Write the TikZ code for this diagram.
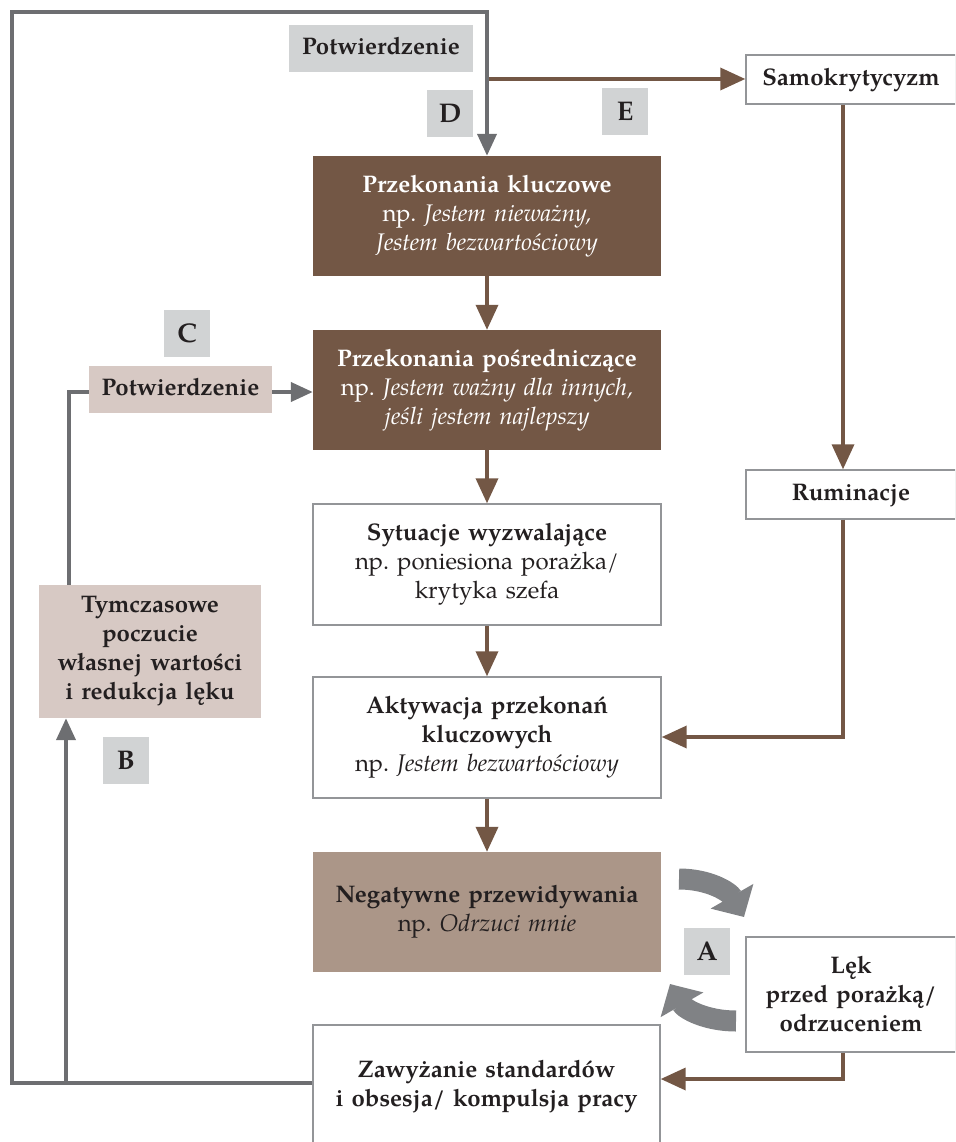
\documentclass[tikz,border=0pt]{standalone}
\usepackage{fontspec}
\setmainfont{texgyrepagella}[
  Extension=.otf,
  UprightFont=*-regular,
  BoldFont=*-bold,
  ItalicFont=*-italic,
  BoldItalicFont=*-bolditalic]
\usetikzlibrary{arrows.meta}
\frenchspacing

\definecolor{brownbox}{HTML}{735745}
\definecolor{taupebox}{HTML}{AB9688}
\definecolor{labelgray}{HTML}{D1D3D4}
\definecolor{rosebox}{HTML}{D7C9C4}
\definecolor{loopgray}{HTML}{6D6E71}
\definecolor{cyclegray}{HTML}{808285}
\definecolor{framegray}{HTML}{939598}
\definecolor{inktext}{HTML}{231F20}

\tikzset{
  every node/.style={font=\fontsize{24}{29}\selectfont, text=inktext},
  box/.style={rectangle, inner sep=0pt, align=center, text width=#1},
  box/.default=340pt,
  darkbox/.style={box, fill=brownbox, text=white},
  whitebox/.style={box=#1, draw=framegray, line width=1.4pt, fill=white},
  whitebox/.default=340pt,
  letterbox/.style={rectangle, fill=labelgray, inner sep=0pt,
    minimum width=46pt, minimum height=47pt, font=\fontsize{27}{30}\selectfont\bfseries},
  brownline/.style={draw=brownbox, line width=3.6pt},
  brownarrow/.style={brownline, -{Triangle[length=25pt, width=22pt]}},
  grayline/.style={draw=loopgray, line width=4pt},
  grayarrow/.style={grayline, -{Triangle[length=22pt, width=19pt]}},
  cyclearrow/.style={draw=cyclegray, line width=21pt,
    -{Triangle[length=24pt, width=48pt]}},
}

\begin{document}
\begin{tikzpicture}[x=1pt, y=-1pt]
  \useasboundingbox (0,0) rectangle (955,1142);
  \clip (0,0) rectangle (955,1142);

  % main column
  \node[darkbox, minimum width=348pt, minimum height=120pt] (kluczowe) at (487,216)
    {\textbf{Przekonania kluczowe}\\np. \textit{Jestem nieważny,}\\\textit{Jestem bezwartościowy}};
  \node[darkbox, minimum width=348pt, minimum height=120pt] (posred) at (487,390)
    {\textbf{Przekonania pośredniczące}\\np. \textit{Jestem ważny dla innych,}\\\textit{jeśli jestem najlepszy}};
  \node[whitebox, minimum width=348pt, minimum height=121pt] (sytuacje) at (487,564.5)
    {\textbf{Sytuacje wyzwalające}\\np. poniesiona porażka/\\krytyka szefa};
  \node[whitebox, minimum width=348pt, minimum height=121pt] (aktyw) at (487,737.5)
    {\textbf{Aktywacja przekonań}\\\textbf{kluczowych}\\np. \textit{Jestem bezwartościowy}};
  \node[box, fill=taupebox, minimum width=348pt, minimum height=120pt] (negat) at (487,912)
    {\textbf{Negatywne przewidywania}\\np. \textit{Odrzuci mnie}};
  \node[whitebox, minimum width=347pt, minimum height=124pt] (zawyz) at (486.5,1087)
    {\textbf{Zawyżanie standardów}\\\textbf{i obsesja/ kompulsja pracy}\\[6pt]};

  % right column
  \node[whitebox=200pt, minimum width=210pt, minimum height=49pt] (samo) at (851,79.5)
    {\textbf{Samokrytycyzm}\strut};
  \node[whitebox=200pt, minimum width=210pt, minimum height=49pt] (rumin) at (851,494.5)
    {\textbf{Ruminacje}\strut};
  \node[whitebox=200pt, minimum width=210pt, minimum height=115pt] (lek) at (851,994.5)
    {\textbf{Lęk}\\\textbf{przed porażką/}\\\textbf{odrzuceniem}};

  % left column
  \node[box=215pt, fill=rosebox, minimum width=222pt, minimum height=133pt] (tymcz) at (150,651.5)
    {\textbf{Tymczasowe}\\\textbf{poczucie}\\\textbf{własnej wartości}\\\textbf{i redukcja lęku}};
  \node[box=180pt, fill=rosebox, minimum width=183pt, minimum height=47pt] (potC) at (180.5,389.5)
    {\textbf{Potwierdzenie}\strut};
  \node[box=180pt, fill=labelgray, minimum width=184pt, minimum height=47pt] (potD) at (381,48.5)
    {\textbf{Potwierdzenie}\strut};

  % letter tags
  \node[letterbox] (tagA) at (707,951.5) {A};
  \node[letterbox] (tagB) at (126,760) {B};
  \node[letterbox] (tagC) at (187,333.5) {C};
  \node[letterbox] (tagD) at (450,113.5) {D};
  \node[letterbox] (tagE) at (625,111.5) {E};

  % brown flow down the main column
  \draw[brownarrow] (kluczowe) -- (posred);
  \draw[brownarrow] (posred) -- (sytuacje);
  \draw[brownarrow] (sytuacje) -- (aktyw);
  \draw[brownarrow] (aktyw) -- (negat);

  % self-criticism and rumination branch
  \coordinate (eStart) at (487,79);
  \draw[brownarrow] (eStart) -- (samo.west |- eStart);
  \draw[brownarrow] (samo.south -| 843,0) -- (rumin.north -| 843,0);
  \coordinate (rumTurn) at (843,737);
  \draw[brownarrow] (rumin.south -| rumTurn) -- (rumTurn) -- (aktyw.east |- rumTurn);
  \coordinate (lekTurn) at (843,1079);
  \draw[brownarrow] (lek.south -| lekTurn) -- (lekTurn) -- (zawyz.east |- lekTurn);

  % outer confirmation loop
  \coordinate (loopBL) at (12,1083);
  \coordinate (loopTL) at (12,12);
  \coordinate (loopTR) at (487,12);
  \draw[grayarrow] (zawyz.west |- loopBL) -- (loopBL) -- (loopTL) -- (loopTR) -- (kluczowe.north);
  \coordinate (branchB) at (66,1083);
  \draw[grayarrow] (branchB) -- (tymcz.south -| branchB);
  \coordinate (riseC) at (69,392);
  \draw[grayline] (tymcz.north -| riseC) -- (riseC) -- (potC.west |- riseC);
  \draw[grayarrow] (potC.east |- riseC) -- (posred.west |- riseC);

  % anxiety cycle
  \coordinate (cycA1) at (679,879);
  \coordinate (cycA2) at (744,917);
  \coordinate (cycB1) at (736,1021);
  \coordinate (cycB2) at (670,984);
  \draw[cyclearrow] (cycA1) to[out=0, in=120] (cycA2);
  \draw[cyclearrow] (cycB1) to[out=180, in=-60] (cycB2);
\end{tikzpicture}
\end{document}
